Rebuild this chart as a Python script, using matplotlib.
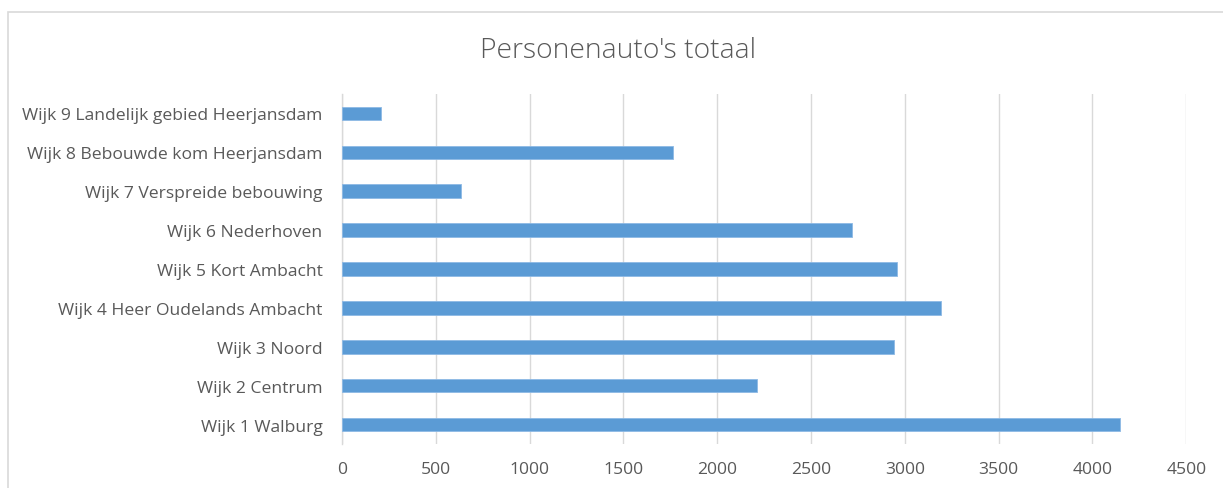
import matplotlib
matplotlib.use("Agg")
import matplotlib.pyplot as plt
from matplotlib.patches import Rectangle

categories = ["Wijk 1 Walburg", "Wijk 2 Centrum", "Wijk 3 Noord", "Wijk 4 Heer Oudelands Ambacht",
              "Wijk 5 Kort Ambacht", "Wijk 6 Nederhoven", "Wijk 7 Verspreide bebouwing",
              "Wijk 8 Bebouwde kom Heerjansdam", "Wijk 9 Landelijk gebied Heerjansdam"]
values = [4148, 2212, 2944, 3194, 2960, 2720, 636, 1766, 208]
xticks = [0, 500, 1000, 1500, 2000, 2500, 3000, 3500, 4000, 4500]
title = "Personenauto's totaal"

W, H = 1223, 489
fig = plt.figure(figsize=(W / 100, H / 100), dpi=100)
plt.rcParams['font.family'] = ['Open Sans', 'DejaVu Sans']

# chart frame
fig.patches.append(Rectangle((8 / W, -0.1), 1.2, 1 - 13 / H + 0.1, transform=fig.transFigure,
                             fill=False, edgecolor="#D9D9D9", linewidth=1.2))

ax = fig.add_axes([342 / W, 1 - 445 / H, (1186.3 - 342) / W, (445 - 95) / H])
y = range(len(categories))
ax.barh(y, values, height=0.35, color="#5B9BD5", edgecolor="#8DB9E5", linewidth=0.6, zorder=3)
ax.set_xlim(0, 4500)
ax.set_ylim(-0.5, len(categories) - 0.5)
ax.set_xticks(xticks)
ax.set_xticklabels([str(v) for v in xticks])
ax.set_yticks(list(y))
ax.set_yticklabels(categories)
ax.grid(axis="x", color="#D9D9D9", linewidth=1, zorder=0)
for s in ["top", "right", "bottom"]:
    ax.spines[s].set_visible(False)
ax.spines["left"].set_color("#D9D9D9")
ax.spines["left"].set_linewidth(1)
ax.tick_params(axis="both", length=0, labelsize=12.6, colors="#595959")
ax.tick_params(axis="x", pad=12)
ax.tick_params(axis="y", pad=14)
fig.text(618.5 / W, 1 - 51 / H, title, ha="center", va="center", fontsize=20.3,
         fontweight="light", color="#595959")

fig.savefig("out.png", dpi=100)
